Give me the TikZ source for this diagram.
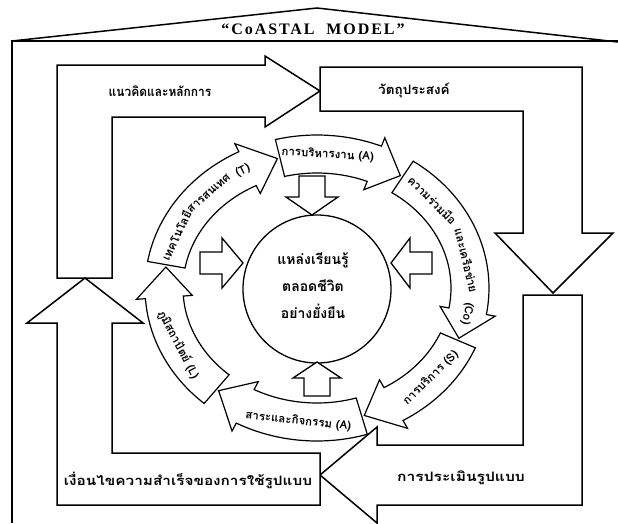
\documentclass[tikz,border=0pt]{standalone}
\usepackage{fontspec}
\usepackage{graphicx}
\setmainfont{Liberation Serif}
\newfontfamily\thaifont[Script=Thai]{Loma}
\usetikzlibrary{positioning}

% ring of curved arrows round the centre circle
\def\ringcx{317}\def\ringcy{288}
\def\rxo{172}\def\ryo{153}
\def\rxi{134}\def\ryi{115}
\def\rxm{153}\def\rym{134}

% #1 tail angle, #2 head base angle, #3 tip angle
\newcommand{\ringarrow}[3]{%
  \draw[ringarrow] plot[domain=#1:#2, samples=30] ({\ringcx+\rxo*cos(\x)}, {\ringcy+\ryo*sin(\x)})
    -- ({\ringcx+(\rxo+9)*cos(#2)}, {\ringcy+(\ryo+9)*sin(#2)})
    -- ({\ringcx+\rxm*cos(#3)}, {\ringcy+\rym*sin(#3)})
    -- ({\ringcx+(\rxi-9)*cos(#2)}, {\ringcy+(\ryi-9)*sin(#2)})
    -- plot[domain=#2:#1, samples=30] ({\ringcx+\rxi*cos(\x)}, {\ringcy+\ryi*sin(\x)})
    -- cycle;}

% [flip] name, angle, text
\newcommand{\ringlabel}[4][0]{%
  \pgfmathsetmacro{\ringrot}{atan2(-\rym*cos(#3), -\rxm*sin(#3))+#1}
  \node[ringtext, rotate=\ringrot] (#2) at ({\ringcx+\rxm*cos(#3)}, {\ringcy+\rym*sin(#3)}) {#4};}

\begin{document}
\begin{tikzpicture}[
    x=1pt, y=-1pt,
    bigshape/.style={draw, line width=1.5pt, fill=white, line join=miter},
    ringarrow/.style={draw, line width=1.2pt, fill=white},
    smallarrow/.style={draw, line width=1.3pt, fill=white},
    maintext/.style={font=\thaifont\bfseries\fontsize{13}{15}\selectfont, inner sep=1pt},
    ringtext/.style={font=\thaifont\bfseries\fontsize{11.5}{13}\selectfont, inner sep=0pt},
    centertext/.style={font=\thaifont\bfseries\fontsize{14}{27}\selectfont, align=center},
    titletext/.style={font=\bfseries\fontsize{16}{18}\selectfont\addfontfeature{LetterSpace=12}}
]
    \useasboundingbox (0,0) rectangle (618,523);

    % house: roof and wall
    \draw[line width=1.5pt] (12,523) -- (12,41) -- (618,41);
    \draw[line width=1.5pt] (12,41) -- (317,8) -- (618,42);
    \node[titletext] (title) at (313,29) {“CoASTAL\ \ MODEL”};

    % four big arrows
    \draw[bigshape] (57,278) -- (57,65) -- (265,65) -- (265,56) -- (320,91)
        -- (265,127) -- (265,117) -- (112,117) -- (112,278) -- cycle;
    \draw[bigshape] (320,67) -- (582,67) -- (582,233) -- (613,233) -- (553,293)
        -- (495,233) -- (523,233) -- (523,111) -- (320,111) -- cycle;
    \draw[bigshape] (523,295) -- (582,295) -- (582,505) -- (377,505) -- (377,523)
        -- (320,475) -- (377,427) -- (377,445) -- (523,445) -- cycle;
    \draw[bigshape] (57,505) -- (57,323) -- (27,323) -- (85,278) -- (143,323)
        -- (112,323) -- (112,453) -- (320,453) -- (320,505) -- cycle;

    \node[maintext] (concept) at (160,91) {\scalebox{0.92}[1]{แนวคิดและหลักการ}};
    \node[maintext] (objective) at (414,90) {\scalebox{1.04}[1]{วัตถุประสงค์}};
    \node[maintext] (condition) at (188,480) {\scalebox{1.18}[1]{เงื่อนไขความสำเร็จของการใช้รูปแบบ}};
    \node[maintext] (evaluation) at (461,478) {\scalebox{1.2}[1]{การประเมินรูปแบบ}};

    % centre
    \draw[line width=1.3pt] (317,289) circle[radius=74];
    \node[centertext] (source) at (313,286) {แหล่งเรียนรู้\\ตลอดชีวิต\\อย่างยั่งยืน};

    % curved arrows, clockwise
    \ringarrow{256}{292}{303}
    \ringarrow{304}{370}{382}
    \ringarrow{23}{60}{72}
    \ringarrow{73}{118}{130}
    \ringarrow{131}{176}{189}
    \ringarrow{190}{243}{255}

    \ringlabel{lblA}{274}{การบริหารงาน (A)}
    \ringlabel{lblCo}{319}{ความร่วมมือ}
    \ringlabel{lblCoa}{348}{และเครือข่าย}
    \ringlabel{lblCob}{371}{(Co)}
    \ringlabel[180]{lblS}{42}{การบริการ (S)}
    \ringlabel[180]{lblC}{97}{สาระและกิจกรรม (A)}
    \ringlabel[180]{lblL}{155}{ภูมิสถาปัตย์ (L)}
    \ringlabel{lblT}{203}{เทคโนโลยี}
    \ringlabel{lblTa}{225}{สารสนเทศ}
    \ringlabel{lblTb}{241}{(T)}

    % small arrows into the circle
    \draw[smallarrow] (299,176) -- (325,176) -- (325,197) -- (338,197) -- (312,215)
        -- (286,197) -- (299,197) -- cycle;
    \draw[smallarrow] (200,252) -- (222,252) -- (222,238) -- (243,263) -- (222,288)
        -- (222,274) -- (200,274) -- cycle;
    \draw[smallarrow] (432,252) -- (410,252) -- (410,238) -- (391,263) -- (410,288)
        -- (410,274) -- (432,274) -- cycle;
    \draw[smallarrow] (304,396) -- (304,378) -- (293,378) -- (317,362) -- (341,378)
        -- (330,378) -- (330,396) -- cycle;
\end{tikzpicture}
\end{document}
